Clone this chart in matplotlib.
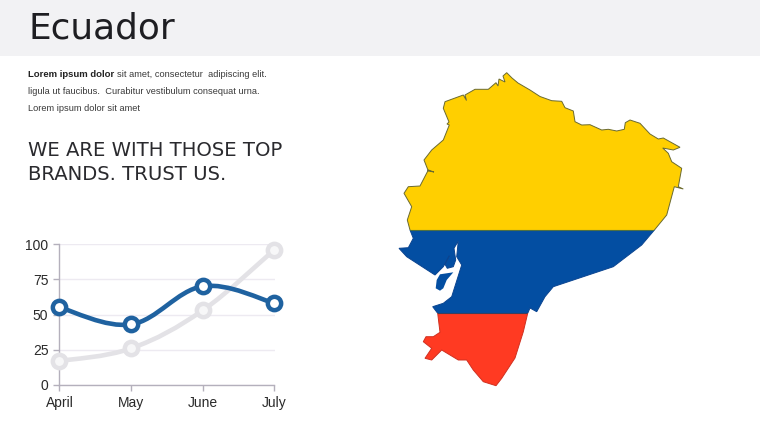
import numpy as np
import matplotlib
matplotlib.use("Agg")
import matplotlib.pyplot as plt
from matplotlib.path import Path
from matplotlib.patches import PathPatch, Rectangle, Polygon

months = ["April", "May", "June", "July"]
series_blue = [55, 43, 70, 58]
series_gray = [17, 26, 53, 96]
yticks = [0, 25, 50, 75, 100]

outline = [(506.7,72.7),(512,78),(518,83),(530,90),(540,96.5),(551.7,100.7),(561.7,101.3),(565,107.7),
 (573.3,111),(575,121.7),(581.7,125),(590,124.7),(601.7,130),(608.3,129.3),(616.7,131),(624.3,129.3),
 (625.3,122.7),(630,120),(640,123.3),(650,134),(658.3,139),(663.3,138),(680,147.3),(673.3,150),
 (662.7,148),(668.3,153.3),(671.7,161.7),(681.7,168.3),(678.3,186.7),(683.3,189),(674.3,186.7),
 (666.7,215),(655,229.3),(641.7,245),(613.3,266.7),(553.3,286.7),(545,296.7),(536.7,311.7),(530,308),
 (527.7,313.3),(523.3,331.7),(515,358),(501.7,378.3),(496,385.7),(483.3,381.7),(473.3,370),(466.7,360),
 (458.3,360),(441.7,350),(431.7,360),(425,358.3),(431.7,348.3),(423.3,341.7),(426,336.7),(433.3,336.7),
 (440,332.3),(437.7,313.3),(432.7,306.7),(443.3,303.3),(451.7,296.7),(461.7,265),(456.7,256.7),(458.3,241),
 (454,248.3),(455.7,260),(453.3,266.7),(447.3,268.3),(445,264.3),(449.3,255.7),(443.3,266.7),(435,275),
 (406.7,256.7),(399,248.3),(408.3,247.7),(413.3,238.3),(410,230),(407.3,220),(411.7,206.7),(404,193.3),
 (408.3,186.7),(420,186),(428.3,170),(434,172),(428.3,171),(424,160),(431.7,150),(443.3,140),(449.3,125),
 (447,124),(449,122),(443.3,108.3),(445,101.7),(463.3,95),(466.5,100.5),(465,95),(475,89.3),(488.3,89.3),
 (496,82.7),(498,86),(499,79),(505,82),(503,76)]
island_a = [(435.7,288.3),(436.7,280),(440,274.3),(453.3,272.3),(446.7,280),(443.3,288.3),(440,290.7)]

W, H = 760, 428
fig = plt.figure(figsize=(W/100, H/100), dpi=100, facecolor="white")

# page layer in pixel coordinates
bg = fig.add_axes([0, 0, 1, 1])
bg.set_xlim(0, W); bg.set_ylim(H, 0); bg.axis("off")
bg.add_patch(Rectangle((0, 0), W, 55.5, fc="#F2F2F4", ec="none"))

dark = "#1E1E22"
bg.text(29, 38.5, "Ecuador", fontfamily="DejaVu Sans", fontsize=25.8, color=dark, va="baseline", ha="left")
body = "Liberation Sans"
fs = 6.7
bg.text(28, 74, "Lorem ipsum dolor", fontfamily=body, fontsize=6.8, fontweight="bold", color="#222222", va="center")
bg.text(117, 74, "sit amet, consectetur  adipiscing elit.", fontfamily=body, fontsize=fs, color="#3A3A3A", va="center")
bg.text(28, 91, "ligula ut faucibus.  Curabitur vestibulum consequat urna.", fontfamily=body, fontsize=fs, color="#3A3A3A", va="center")
bg.text(28, 108, "Lorem ipsum dolor sit amet", fontfamily=body, fontsize=fs, color="#3A3A3A", va="center")
bg.text(28, 156, "WE ARE WITH THOSE TOP", fontfamily="DejaVu Sans", fontsize=14.1, color="#2A2A2E", va="baseline")
bg.text(28, 180, "BRANDS. TRUST US.", fontfamily="DejaVu Sans", fontsize=14.1, color="#2A2A2E", va="baseline")

# map
YEL, BLU, RED = "#FFCF00", "#034EA2", "#FF3A22"
shape = Polygon(outline, closed=True, fc="none", ec="none")
bg.add_patch(shape)
bands = [(60, 229.5, YEL, "#6A6A30"), (229.5, 313, BLU, "#0A4490"), (313, 395, RED, "#D03020")]
for y0, y1, c, ec in bands:
    r = Rectangle((390, y0), 300, y1 - y0, fc=c, ec="none", zorder=2)
    bg.add_patch(r)
    r.set_clip_path(shape)
    e = Polygon(outline, closed=True, fc="none", ec=ec, lw=0.7, zorder=3)
    bg.add_patch(e)
    e.set_clip_path(Rectangle((390, y0), 300, y1 - y0, transform=bg.transData))
for y, c in [(229.5, "#4F7040"), (313, "#3A3F5E")]:
    ln, = bg.plot([390, 690], [y, y], color=c, lw=0.8, zorder=3)
    ln.set_clip_path(shape)
bg.add_patch(Polygon(island_a, closed=True, fc=BLU, ec="none", zorder=4))

# chart
x0, x1, ytop, ybot = 59.5, 274.5, 244, 385
ax = fig.add_axes([x0/W, 1-ybot/H, (x1-x0)/W, (ybot-ytop)/H], facecolor="none")
ax.set_xlim(0, 3); ax.set_ylim(0, 100)
ax.set_yticks(yticks); ax.set_xticks(range(4)); ax.set_xticklabels(months)
ax.tick_params(axis="both", colors="#B4B0BC", length=4, width=1, labelcolor="#2A2A2A", labelsize=10, pad=4)
ax.tick_params(axis="x", pad=4)
for lab in ax.get_xticklabels() + ax.get_yticklabels():
    lab.set_fontfamily("Liberation Sans")
ax.grid(axis="y", color="#EDEAF1", lw=1)
ax.set_axisbelow(True)
for s in ("top", "right"):
    ax.spines[s].set_visible(False)
for s in ("left", "bottom"):
    ax.spines[s].set_color("#B4B0BC")
    ax.spines[s].set_linewidth(1)

def smooth_path(vals, t=0.18):
    xs = np.arange(len(vals), dtype=float); ys = np.array(vals, dtype=float)
    verts = [(xs[0], ys[0])]; codes = [Path.MOVETO]
    for i in range(len(xs)-1):
        p0 = i-1 if i > 0 else i
        p3 = i+2 if i+2 < len(xs) else i+1
        c1 = (xs[i]+(xs[i+1]-xs[p0])*t, ys[i]+(ys[i+1]-ys[p0])*t)
        c2 = (xs[i+1]-(xs[p3]-xs[i])*t, ys[i+1]-(ys[p3]-ys[i])*t)
        verts += [c1, c2, (xs[i+1], ys[i+1])]
        codes += [Path.CURVE4]*3
    return Path(verts, codes)

for vals, col, face, z in [(series_gray, "#E3E2E6", "#F7F7F8", 3), (series_blue, "#1F62A0", "#FFFFFF", 5)]:
    ax.add_patch(PathPatch(smooth_path(vals), fc="none", ec=col, lw=3.3, capstyle="round", zorder=z, clip_on=False))
    ax.plot(range(4), vals, ls="none", marker="o", ms=9.6, mfc=face, mec=col, mew=3.2, zorder=z+0.5, clip_on=False)

fig.savefig("out.png", dpi=100, facecolor="white")
